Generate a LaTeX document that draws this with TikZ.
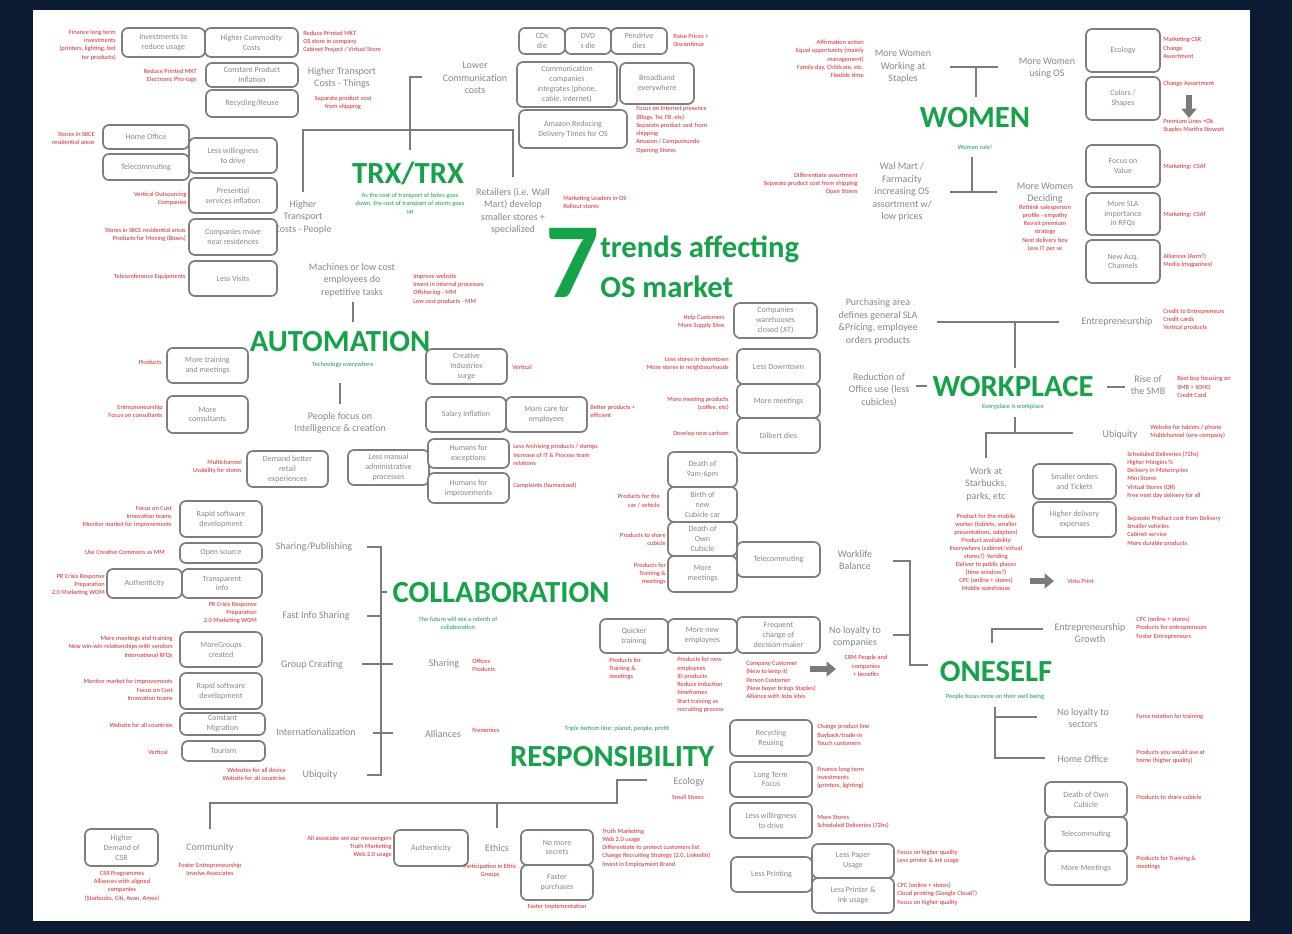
\documentclass[tikz,border=0pt]{standalone}
\usepackage{fontspec}
\setmainfont{Carlito}
\usetikzlibrary{arrows.meta}
\definecolor{navy}{HTML}{0C1A33}
\definecolor{tgray}{HTML}{888888}
\definecolor{lgray}{HTML}{7C7C7C}
\definecolor{bgray}{HTML}{7E7E7E}
\definecolor{agray}{HTML}{7A7A7A}
\definecolor{rred}{HTML}{E8232A}
\definecolor{ggreen}{HTML}{15A34A}
\newcommand\bx[6]{%
 \pgfmathsetmacro\myBW{(#4-#2)*0.75}%
 \pgfmathsetmacro\myBH{(#5-#3)*0.75}%
 \node[bx, minimum width=\myBW pt, minimum height=\myBH pt] (#1) at ({(#2+#4)/2},{(#3+#5)/2}) {#6};}
\begin{document}
\begin{tikzpicture}[x=0.75pt,y=-0.75pt,
 bx/.style={draw=bgray, line width=1.3pt, rounded corners=4.5pt, fill=white, text=tgray, font=\fontsize{6}{7.4}\selectfont, align=center, inner sep=0pt},
 gt/.style={text=tgray, font=\fontsize{7.5}{9.4}\selectfont, align=center, inner sep=0pt},
 rtx/.style={text=rred, font=\fontsize{4.8}{6.2}\selectfont, inner sep=0pt},
 rte/.style={rtx, anchor=east, align=right},
 rtw/.style={rtx, anchor=west, align=left},
 rtc/.style={rtx, align=center},
 gs/.style={text=ggreen, font=\fontsize{4.8}{6.2}\selectfont, align=center, inner sep=0pt},
 big/.style={text=ggreen, font=\fontsize{23}{25}\bfseries\selectfont, inner sep=0pt},
 conn/.style={draw=lgray, line width=1.5pt},
 fat/.style={draw=agray, line width=5pt, -{Triangle[width=11pt,length=7pt]}}]
\useasboundingbox (0,0) rectangle (1292,934);
\fill[navy] (0,0) rectangle (1292,934);
\fill[white] (33,10) rectangle (1250,921);

% ---------- TRX/TRX ----------
\node[gt] (hp) at (303,217) {Higher\\Transport\\Costs - People};
\bx{b1}{122}{28}{205}{57}{Investments to\\reduce usage}
\bx{b2}{205}{28}{298}{57}{Higher Commodity\\Costs}
\bx{b3}{206}{63}{298}{87}{Constant Product\\Inflation}
\bx{b4}{206}{90}{298}{117}{Recycling/Reuse}
\node[rte] (r1) at (116,45) {Finance long term\\investments\\(printers, lighting, bet\\ter products)};
\node[rtw] (r2) at (303,42) {Reduce Printed MKT\\OS store in company\\Cabinet Project / Virtual Store};
\node[rte] (r3) at (197,76) {Reduce Printed MKT\\Electronic Pho-tags};
\node[gt] (ht) at (342,78) {Higher Transport\\Costs - Things};
\node[rtc] (r4) at (343,103) {Separate product cost\\from shipping};
\bx{b5}{103}{125}{189}{149}{Home Office}
\bx{b6}{103}{154}{189}{180}{Telecommuting}
\bx{b7}{189}{138}{277}{173}{Less willingness\\to drive}
\bx{b8}{189}{178}{277}{213}{Presential\\services inflation}
\bx{b9}{189}{219}{277}{255}{Companies move\\near residences}
\bx{b10}{189}{261}{277}{296}{Less Visits}
\node[rte] (r5) at (95,138) {Stores in SKCE\\residential areas};
\node[rte] (r6) at (187,199) {Vertical Outsourcing\\Companies};
\node[rte] (r7) at (186,235) {Stores in SKCE residential areas\\Products for Moving (Boxes)};
\node[rte] (r8) at (186,277) {Teleconference Equipments};
\coordinate (t1) at (303,192); \coordinate (t2) at (303,130);
\coordinate (t3) at (513,130); \coordinate (t4) at (513,177);
\draw[conn] (t1) -- (t2) -- (t3) -- (t4);
\coordinate (t5) at (410,77); \coordinate (t6) at (410,150); \coordinate (t7) at (422,77);
\draw[conn] (t6) -- (t5) -- (t7);
\node[big] (trx) at (408,173) {TRX/TRX};
\node[gs] (trxs) at (410,204) {As the cost of transport of bytes goes\\down, the cost of transport of atoms goes\\up};
\node[gt] (lcc) at (475,78) {Lower\\Communication\\costs};
\node[gt] (ret) at (513,211) {Retailers (i.e. Wall\\Mart) develop\\smaller stores +\\specialized};
\node[rtw] (r9) at (563,202) {Marketing Leaders in OS\\Rollout stores};
\bx{b11}{519}{28}{565}{54}{CDs\\die}
\bx{b12}{565}{28}{611}{54}{DVD\\s die}
\bx{b13}{611}{28}{667}{54}{Pendrive\\dies}
\node[rtw] (r10) at (673,40) {Raise Prices +\\Discontinue};
\bx{b14}{517}{62}{617}{107}{Communication\\companies\\integrates (phone,\\cable, internet)}
\bx{b15}{620}{63}{694}{104}{Broadband\\everywhere}
\bx{b16}{519}{110}{627}{148}{Amazon Reducing\\Delivery Times for OS}
\node[rtw] (r11) at (636,130) {Focus on Internet presence\\(Blogs, Tw, FB, etc)\\Separate product cost from\\shipping\\Amazon / Compumundo\\Opening Stores};

% ---------- WOMEN ----------
\node[rte] (r12) at (864,59) {Affirmation action\\Equal opportunity (mainly\\management)\\Family day, Childcare, etc.\\Flexible time};
\node[gt] (mww) at (903,67) {More Women\\Working at\\Staples};
\coordinate (w1) at (950,67); \coordinate (w2) at (998,67);
\coordinate (w3) at (976,67); \coordinate (w4) at (976,97);
\draw[conn] (w1) -- (w2); \draw[conn] (w3) -- (w4);
\node[big] (women) at (975,118) {WOMEN};
\node[gs] (womens) at (975,147) {Women rule!};
\coordinate (w5) at (972,157); \coordinate (w6) at (972,192);
\coordinate (w7) at (950,192); \coordinate (w8) at (997,192);
\draw[conn] (w5) -- (w6); \draw[conn] (w7) -- (w8);
\node[gt] (wal) at (902,192) {Wal Mart /\\Farmacity\\increasing OS\\assortment w/\\low prices};
\node[rte] (r13) at (858,184) {Differentiate assortment\\Separate product cost from shipping\\Open Stores};
\node[gt] (mwu) at (1047,68) {More Women\\using OS};
\bx{b17}{1086}{29}{1160}{72}{Ecology}
\bx{b18}{1086}{77}{1160}{120}{Colors /\\Shapes}
\bx{b19}{1086}{145}{1160}{187}{Focus on\\Value}
\bx{b20}{1086}{193}{1160}{235}{More SLA\\importance\\in RFQs}
\bx{b21}{1086}{240}{1160}{283}{New Acq.\\Channels}
\node[rtw] (r14) at (1163,48) {Marketing CSR\\Change\\Assortment};
\node[rtw] (r15) at (1163,84) {Change Assortment};
\coordinate (ar1) at (1189,95); \coordinate (ar2) at (1189,118);
\draw[fat] (ar1) -- (ar2);
\node[rtw] (r16) at (1163,126) {Premium Lines =Ok\\Staples Martha Stewart};
\node[rtw] (r17) at (1163,167) {Marketing: CSAT};
\node[rtw] (r18) at (1163,215) {Marketing: CSAT};
\node[rtw] (r19) at (1163,261) {Alliances (Avm?)\\Media (magazines)};
\node[gt] (mwd) at (1045,193) {More Women\\Deciding};
\node[rtc] (r20) at (1045,228) {Rethink salesperson\\profile - empathy\\Revisit premium\\strategy\\Next delivery boy\\Less IT per se};

% ---------- TITLE ----------
\node[text=ggreen, font=\fontsize{80}{84}\bfseries\selectfont, inner sep=0pt, anchor=base] (seven) at (573,298) {7};
\node[big, anchor=base west] (tr1) at (600,258) {trends affecting};
\node[big, anchor=base west] (tr2) at (600,297) {OS market};

% ---------- AUTOMATION ----------
\node[gt] (mach) at (352,280) {Machines or low cost\\employees do\\repetitive tasks};
\node[rtw] (r21) at (413,289) {Improve website\\Invest in internal processes\\Offshoring - MM\\Low cost products - MM};
\coordinate (a1) at (353,302); \coordinate (a2) at (353,322);
\draw[conn] (a1) -- (a2);
\node[big] (auto) at (340,342) {AUTOMATION};
\node[gs] (autos) at (343,365) {Technology everywhere};
\coordinate (a3) at (340,383); \coordinate (a4) at (340,404);
\draw[conn] (a3) -- (a4);
\node[gt] (pf) at (340,423) {People focus on\\Intelligence \& creation};
\bx{b22}{426}{349}{507}{384}{Creative\\Industries\\surge}
\node[rtw] (r22) at (512,367) {Vertical};
\bx{b23}{426}{397}{506}{432}{Salary inflation}
\bx{b24}{506}{397}{587}{432}{More care for\\employees}
\node[rtw] (r23) at (590,411) {Better products +\\efficient};
\bx{b27}{348}{450}{429}{485}{Less manual\\administrative\\processes}
\bx{b25}{428}{439}{509}{468}{Humans for\\exceptions}
\bx{b26}{428}{473}{509}{503}{Humans for\\improvements}
\node[rtw] (r24) at (513,455) {Less Archiving products / stamps\\Increase of IT \& Process team\\relations};
\node[rtw] (r25) at (513,486) {Complaints (humanized)};
\bx{b28}{167}{348}{248}{383}{More training\\and meetings}
\node[rte] (r26) at (162,362) {Products};
\bx{b29}{167}{396}{248}{433}{More\\consultants}
\node[rte] (r27) at (163,411) {Entrepreneurship\\Focus on consultants};
\bx{b30}{247}{451}{328}{487}{Demand better\\retail\\experiences}
\node[rte] (r28) at (242,467) {Multichannel\\Usability for stores};

% ---------- COLLABORATION ----------
\bx{b31}{180}{501}{262}{537}{Rapid software\\development}
\node[rte] (r29) at (172,517) {Focus on Cust\\Innovation teams\\Monitor market for improvements};
\bx{b32}{180}{543}{262}{563}{Open source}
\node[rte] (r30) at (165,552) {Use Creative Commons as MM};
\bx{b33}{107}{569}{182}{598}{Authenticity}
\bx{b34}{182}{569}{262}{598}{Transparent\\info}
\node[rte] (r31) at (105,585) {PR Crisis Response\\Preparation\\2.0 Marketing WOM};
\node[rte] (r32) at (257,613) {PR Crisis Response\\Preparation\\2.0 Marketing WOM};
\node[gt] (sp) at (314,547) {Sharing/Publishing};
\node[gt] (fis) at (316,616) {Fast Info Sharing};
\node[gt] (gc) at (312,665) {Group Creating};
\node[gt] (intl) at (316,732) {Internationalization};
\node[gt] (ubq) at (320,775) {Ubiquity};
\coordinate (c1) at (367,547); \coordinate (c2) at (381,547);
\coordinate (c3) at (381,775); \coordinate (c4) at (367,775);
\draw[conn] (c1) -- (c2) -- (c3) -- (c4);
\coordinate (c5) at (367,616); \coordinate (c6) at (381,616);
\coordinate (c7) at (362,664); \coordinate (c8) at (393,664);
\coordinate (c9) at (373,733); \coordinate (c10) at (393,733);
\coordinate (c11) at (381,592); \coordinate (c12) at (387,592);
\draw[conn] (c5) -- (c6); \draw[conn] (c7) -- (c8);
\draw[conn] (c9) -- (c10); \draw[conn] (c11) -- (c12);
\bx{b35}{180}{632}{262}{667}{MoreGroups\\created}
\node[rte] (r33) at (173,647) {More meetings and training\\New win-win relationships with vendors\\International RFQs};
\bx{b36}{180}{673}{262}{709}{Rapid software\\development}
\node[rte] (r34) at (173,690) {Monitor market for improvements\\Focus on Cust\\Innovation teams};
\bx{b37}{180}{713}{265}{735}{Constant\\Migration}
\node[rte] (r35) at (173,725) {Website for all countries};
\bx{b38}{182}{741}{265}{761}{Tourism}
\node[rte] (r36) at (168,752) {Vertical};
\node[rte] (r37) at (286,774) {Websites for all device\\Website for all countries};
\node[big] (collab) at (501,593) {COLLABORATION};
\node[gs] (collabs) at (458,623) {The future will see a rebirth of\\collaboration};
\node[gt] (shar) at (444,664) {Sharing};
\node[rtw] (r38) at (472,665) {Offices\\Products};
\node[gt] (alli) at (443,734) {Alliances};
\node[rtw] (r39) at (472,730) {Frenemies};

% ---------- RESPONSIBILITY ----------
\node[gs] (resps) at (617,729) {Triple bottom line: planet, people, profit};
\node[big] (resp) at (612,757) {RESPONSIBILITY};
\coordinate (e1) at (647,780); \coordinate (e2) at (617,780);
\coordinate (e3) at (617,803); \coordinate (e4) at (210,803);
\coordinate (e5) at (210,829); \coordinate (e6) at (497,803); \coordinate (e7) at (497,828);
\draw[conn] (e1) -- (e2) -- (e3) -- (e4) -- (e5);
\draw[conn] (e6) -- (e7);
\node[gt] (eco) at (689,782) {Ecology};
\node[rtc] (r40) at (688,797) {Small Stores};
\node[gt] (comm) at (210,848) {Community};
\node[rtc] (r41) at (210,869) {Foster Entrepreneurship\\Involve Associates};
\bx{b39}{85}{829}{158}{866}{Higher\\Demand of\\CSR}
\node[rtc] (r42) at (122,886) {CSR Programmes\\Alliances with aligned\\companies\\(Starbucks, Citi, Avon, Amex)};
\node[rte] (r43) at (392,847) {All associate are our messengers\\Truth Marketing\\Web 2.0 usage};
\bx{b40}{394}{830}{468}{866}{Authenticity}
\node[gt] (eth) at (497,848) {Ethics};
\node[rtc] (r44) at (490,871) {Participation in Ethic\\Groups};
\bx{b41}{521}{830}{593}{865}{No more\\secrets}
\bx{b42}{521}{865}{593}{900}{Faster\\purchases}
\node[rtc] (r45) at (557,907) {Faster Implementation};
\node[rtw] (r46) at (602,848) {Truth Marketing\\Web 2.0 usage\\Differentiate to protect customers list\\Change Recruiting Strategy (2.0, LinkedIn)\\Invest in Employment Brand};
\bx{b43}{730}{720}{812}{756}{Recycling\\Reusing}
\node[rtw] (r47) at (817,735) {Change product line\\Buyback/trade-in\\Touch customers};
\bx{b44}{730}{762}{812}{797}{Long Term\\Focus}
\node[rtw] (r48) at (817,778) {Finance long term\\investments\\(printers, lighting)};
\bx{b45}{730}{803}{812}{838}{Less willingness\\to drive}
\node[rtw] (r49) at (817,822) {More Stores\\Scheduled Deliveries (72hs)};
\bx{b46}{731}{857}{812}{892}{Less Printing}
\bx{b47}{812}{844}{894}{878}{Less Paper\\Usage}
\bx{b48}{812}{878}{894}{913}{Less Printer \&\\Ink usage}
\node[rtw] (r50) at (897,857) {Focus on higher quality\\Less printer \& ink usage};
\node[rtw] (r51) at (897,894) {CPC (online + stores)\\Cloud printing (Google Cloud?)\\Focus on higher quality};

% ---------- WORKPLACE ----------
\bx{b49}{734}{303}{817}{338}{Companies\\warehouses\\closed (JIT)}
\node[rte] (r52) at (725,322) {Help Customers\\More Supply Sites};
\bx{b50}{737}{349}{820}{384}{Less Downtown}
\node[rte] (r53) at (729,364) {Less stores in downtown\\More stores in neighbourhoods};
\bx{b51}{737}{384}{820}{418}{More meetings}
\node[rte] (r54) at (729,404) {More meeting products\\(coffee, etc)};
\bx{b52}{737}{418}{820}{453}{Dilbert dies}
\node[rte] (r55) at (729,434) {Develop new cartoon};
\bx{b53}{668}{452}{737}{487}{Death of\\9am-6pm}
\bx{b54}{668}{487}{737}{522}{Birth of\\new\\Cubicle car}
\node[rte] (r56) at (660,501) {Products for the\\car / vehicle};
\bx{b55}{668}{522}{737}{556}{Death of\\Own\\Cubicle}
\node[rte] (r57) at (666,539) {Products to share\\cubicle};
\bx{b56}{668}{556}{737}{592}{More\\meetings}
\node[rte] (r58) at (666,574) {Products for\\Training \&\\meetings};
\bx{b57}{737}{542}{820}{577}{Telecommuting}
\node[gt] (wlb) at (855,560) {Worklife\\Balance};
\coordinate (k1) at (893,561); \coordinate (k2) at (910,561);
\coordinate (k3) at (910,665); \coordinate (k4) at (928,665);
\coordinate (k5) at (893,635); \coordinate (k6) at (910,635);
\draw[conn] (k1) -- (k2) -- (k3) -- (k4);
\draw[conn] (k5) -- (k6);
\node[gt] (pur) at (878,322) {Purchasing area\\defines general SLA\\\&Pricing, employee\\orders products};
\coordinate (p1) at (937,322); \coordinate (p2) at (1059,322);
\coordinate (p3) at (1015,322); \coordinate (p4) at (1015,368);
\draw[conn] (p1) -- (p2); \draw[conn] (p3) -- (p4);
\node[gt] (ent) at (1117,322) {Entrepreneurship};
\node[rtw] (r59) at (1163,320) {Credit to Entrepreneurs\\Credit cards\\Vertical products};
\node[gt] (red) at (879,390) {Reduction of\\Office use (less\\cubicles)};
\coordinate (p5) at (916,386); \coordinate (p6) at (927,386);
\draw[conn] (p5) -- (p6);
\node[big] (work) at (1013,387) {WORKPLACE};
\node[gs] (works) at (1013,407) {Everyplace is workplace};
\coordinate (p7) at (1107,387); \coordinate (p8) at (1125,387);
\draw[conn] (p7) -- (p8);
\node[gt] (smb) at (1148,385) {Rise of\\the SMB};
\node[rtw] (r60) at (1177,387) {Best buy focusing on\\SMB + SOHO\\Credit Card};
\coordinate (q1) at (1015,417); \coordinate (q2) at (1015,433);
\coordinate (q3) at (1073,433); \coordinate (q4) at (986,433); \coordinate (q5) at (986,458);
\draw[conn] (q1) -- (q2); \draw[conn] (q3) -- (q4) -- (q5);
\node[gt] (ubw) at (1120,435) {Ubiquity};
\node[rtw] (r61) at (1150,432) {Website for tablets / phone\\Multichannel (one company)};
\node[gt] (wstar) at (986,484) {Work at\\Starbucks,\\parks, etc};
\bx{b58}{1033}{464}{1116}{499}{Smaller orders\\and Tickets}
\bx{b59}{1033}{502}{1116}{537}{Higher delivery\\expenses}
\node[rtw] (r62) at (1127,475) {Scheduled Deliveries (72hs)\\Higher Margins \%\\Delivery in Motorcycles\\Mini Stores\\Virtual Stores (QR)\\Free next day delivery for all};
\node[rtw] (r63) at (1127,531) {Separate Product cost from Delivery\\Smaller vehicles\\Cabinet service\\More durable products};
\node[rtc, font=\fontsize{4.8}{6}\selectfont] (r64) at (986,552) {Product for the mobile\\worker (tablets, smaller\\presentations, adapters)\\Product availability\\Everywhere (cabinet/virtual\\stores?) Vending\\Deliver to public places\\(time window?)\\CPC (online + stores)\\Mobile warehouse};
\coordinate (ar3) at (1030,581); \coordinate (ar4) at (1054,581);
\draw[fat] (ar3) -- (ar4);
\node[rtw] (r65) at (1067,581) {Vista Print};

% ---------- ONESELF ----------
\bx{b60}{600}{619}{668}{653}{Quicker\\training}
\bx{b61}{668}{619}{737}{653}{More new\\employees}
\bx{b62}{737}{617}{820}{653}{Frequent\\change of\\decision-maker}
\node[rtw] (r66) at (609,669) {Products for\\Training \&\\meetings};
\node[rtw] (r67) at (677,685) {Products for new\\employees\\ID products\\Reduce induction\\timeframes\\Start training as\\recruiting process};
\node[rtw] (r68) at (746,680) {Company Customer\\(New to keep it)\\Person Customer\\(New buyer brings Staples)\\Alliance with Jobs sites};
\coordinate (ar5) at (810,669); \coordinate (ar6) at (836,669);
\draw[fat] (ar5) -- (ar6);
\node[gt] (nlc) at (855,637) {No loyalty to\\companies};
\node[rtc] (r69) at (866,666) {CRM People and\\companies\\+ benefits};
\node[big] (ones) at (996,672) {ONESELF};
\node[gs] (oness) at (995,697) {People focus more on their well being};
\coordinate (o1) at (992,643); \coordinate (o2) at (992,629); \coordinate (o3) at (1043,629);
\draw[conn] (o1) -- (o2) -- (o3);
\node[gt] (eg) at (1090,633) {Entrepreneurship\\Growth};
\node[rtw] (r70) at (1136,628) {CPC (online + stores)\\Products for entrepreneurs\\Foster Entrepreneurs};
\coordinate (o4) at (995,707); \coordinate (o5) at (995,758); \coordinate (o6) at (1045,758);
\coordinate (o7) at (995,717); \coordinate (o8) at (1037,717);
\draw[conn] (o4) -- (o5) -- (o6); \draw[conn] (o7) -- (o8);
\node[gt] (nls) at (1083,718) {No loyalty to\\sectors};
\node[rtw] (r71) at (1136,717) {Force rotation for training};
\node[gt] (hof) at (1083,759) {Home Office};
\node[rtw] (r72) at (1136,757) {Products you would use at\\home (higher quality)};
\bx{b63}{1045}{782}{1127}{817}{Death of Own\\Cubicle}
\bx{b64}{1045}{817}{1127}{851}{Telecommuting}
\bx{b65}{1045}{851}{1127}{885}{More Meetings}
\node[rtw] (r73) at (1136,797) {Products to share cubicle};
\node[rtw] (r74) at (1136,863) {Products for Training \&\\meetings};
\end{tikzpicture}
\end{document}
